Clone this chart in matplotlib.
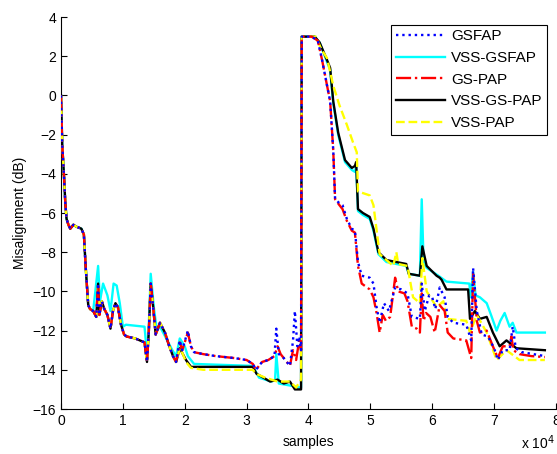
import matplotlib
matplotlib.use("Agg")
import matplotlib.pyplot as plt
from matplotlib.ticker import FuncFormatter

plt.rcParams['font.family'] = ['Liberation Sans', 'DejaVu Sans']

# muestras en unidades de 10^4, desalineamiento en dB
x_inicio = [0, 0.02, 0.05, 0.07, 0.09, 0.12, 0.15, 0.2, 0.25, 0.33, 0.37, 0.4, 0.44, 0.47, 0.52,
            0.57, 0.6, 0.62, 0.66, 0.7, 0.75, 0.8, 0.84, 0.88, 0.92, 0.97, 1.02, 1.06, 1.2, 1.35,
            1.39, 1.42, 1.45, 1.49, 1.53, 1.6, 1.68, 1.75, 1.81, 1.86]
y_inicio = [0, -2.5, -4.2, -5.5, -6.3, -6.6, -6.8, -6.6, -6.7, -6.8, -7.1, -8.8, -10.7, -10.9, -11.0,
            -11.3, -9.6, -11.2, -10.5, -10.9, -11.2, -11.9, -11.0, -10.6, -10.8, -11.7, -12.2, -12.3,
            -12.4, -12.6, -13.6, -12.0, -9.6, -10.8, -12.2, -11.6, -12.1, -12.8, -13.3, -13.6]

# GSFAP
x_gsfap = x_inicio + [1.92, 1.96, 2.05, 2.1, 2.15, 2.3, 2.5, 2.8, 3.0, 3.1, 3.15, 3.25, 3.35, 3.45,
                      3.48, 3.52, 3.6, 3.7, 3.75, 3.78, 3.82, 3.85, 3.88, 3.89, 4.05, 4.15, 4.22,
                      4.3, 4.35, 4.4, 4.43, 4.5, 4.55, 4.62, 4.7, 4.75, 4.8, 4.86, 4.99, 5.05, 5.1,
                      5.15, 5.22, 5.3, 5.4, 5.5, 5.6, 5.67, 5.8, 5.83, 5.88, 5.95, 6.0, 6.05, 6.12,
                      6.2, 6.25, 6.34, 6.55, 6.63, 6.66, 6.72, 6.8, 6.9, 7.0, 7.06, 7.14, 7.25, 7.3,
                      7.35, 7.45, 7.82]
y_gsfap = y_inicio + [-12.5, -13.0, -12.0, -12.8, -13.1, -13.2, -13.3, -13.4, -13.5, -13.7, -14.0,
                      -13.6, -13.5, -13.3, -11.9, -13.2, -13.4, -13.8, -12.5, -11.0, -12.8, -12.3,
                      -13.0, 3.0, 3.0, 2.8, 1.8, 0.5, -0.3, -2.8, -5.3, -5.5, -5.6, -6.3, -6.8,
                      -6.9, -8.5, -9.2, -9.3, -9.6, -10.8, -11.6, -10.6, -11.0, -9.8, -9.9, -10.1,
                      -11.3, -11.4, -9.6, -11.0, -10.2, -10.3, -10.9, -9.8, -10.3, -11.3, -11.6,
                      -11.7, -12.5, -8.8, -11.0, -12.2, -12.3, -12.9, -13.5, -13.0, -13.0, -11.8,
                      -12.9, -13.1, -13.3]

# VSS-GSFAP
x_vss_gsfap = x_inicio[:15] + [0.6, 0.63, 0.68, 0.75, 0.8, 0.85, 0.9, 0.95, 1.0, 1.05, 1.35, 1.39,
                               1.41, 1.45, 1.5, 1.55, 1.6, 1.7, 1.8, 1.86, 1.92, 2.0, 2.05, 2.15,
                               3.1, 3.2, 3.4, 3.46, 3.48, 3.52, 3.7, 3.85, 3.88, 3.89, 4.1, 4.18,
                               4.3, 4.35, 4.4, 4.48, 4.59, 4.7, 4.75, 4.77, 4.8, 4.88, 4.99, 5.05,
                               5.13, 5.26, 5.58, 5.62, 5.8, 5.83, 5.86, 5.91, 6.1, 6.23, 6.6, 6.62,
                               6.66, 6.7, 6.77, 6.88, 6.95, 7.04, 7.1, 7.17, 7.25, 7.3, 7.36, 7.82]
y_vss_gsfap = y_inicio[:15] + [-8.7, -10.5, -9.6, -10.2, -11.0, -9.6, -9.7, -10.6, -11.8, -11.7,
                               -11.8, -13.2, -12.5, -9.1, -10.8, -12.0, -11.8, -12.4, -13.0, -13.3,
                               -12.4, -12.8, -13.3, -13.7, -13.8, -14.4, -14.6, -14.5, -13.2,
                               -14.7, -14.8, -14.9, -14.9, 3.0, 3.0, 2.7, 1.7, 1.3, -0.4, -2.0,
                               -3.4, -3.8, -3.9, -3.6, -5.9, -6.1, -6.3, -6.9, -8.1, -8.5, -8.7,
                               -9.1, -9.2, -5.3, -8.5, -8.8, -9.2, -9.5, -9.6, -10.3, -9.0, -10.2,
                               -10.3, -10.6, -11.2, -12.0, -11.5, -11.1, -11.8, -11.6, -12.1, -12.1]

# GS-PAP
x_gs_pap = x_inicio + [1.92, 1.96, 2.05, 2.1, 2.15, 2.3, 2.5, 2.8, 3.0, 3.1, 3.15, 3.25, 3.35, 3.45,
                       3.5, 3.55, 3.6, 3.7, 3.75, 3.8, 3.85, 3.88, 3.89, 4.05, 4.15, 4.22, 4.3,
                       4.35, 4.4, 4.43, 4.5, 4.55, 4.62, 4.7, 4.75, 4.8, 4.86, 4.99, 5.05, 5.1, 5.15,
                       5.2, 5.25, 5.32, 5.4, 5.45, 5.55, 5.6, 5.67, 5.75, 5.8, 5.83, 5.86, 5.9,
                       5.97, 6.04, 6.12, 6.2, 6.25, 6.34, 6.55, 6.63, 6.66, 6.72, 6.77, 6.88, 6.98,
                       7.06, 7.14, 7.25, 7.28, 7.31, 7.41, 7.6, 7.82]
y_gs_pap = y_inicio + [-12.6, -13.0, -12.1, -12.8, -13.1, -13.2, -13.3, -13.4, -13.5, -13.7, -14.0,
                       -13.6, -13.5, -13.3, -12.8, -13.2, -13.4, -13.8, -13.0, -13.5, -12.5, -13.0,
                       3.0, 3.0, 2.8, 1.8, 0.5, -0.3, -2.8, -5.3, -5.6, -5.8, -6.4, -6.9, -7.0,
                       -8.7, -9.6, -9.9, -10.3, -11.1, -12.1, -11.2, -11.5, -11.3, -9.3, -10.0,
                       -10.1, -10.5, -11.8, -11.9, -12.1, -10.1, -11.5, -11.1, -11.3, -12.1, -10.7,
                       -11.0, -12.1, -12.4, -12.5, -13.4, -9.1, -11.5, -12.1, -12.0, -12.8, -13.4,
                       -12.8, -12.8, -12.3, -13.0, -13.2, -13.3, -13.35]

# VSS-GS-PAP
x_vss_gs_pap = x_inicio + [1.92, 1.97, 2.02, 2.1, 3.1, 3.16, 3.38, 3.5, 3.6, 3.7, 3.78, 3.88, 3.89,
                           4.1, 4.18, 4.3, 4.35, 4.4, 4.48, 4.59, 4.7, 4.75, 4.77, 4.8, 4.88, 4.99,
                           5.05, 5.13, 5.26, 5.58, 5.62, 5.8, 5.84, 5.91, 6.07, 6.12, 6.15, 6.23,
                           6.58, 6.61, 6.69, 6.77, 6.88, 6.98, 7.09, 7.2, 7.36, 7.82]
y_vss_gs_pap = y_inicio + [-12.9, -13.2, -13.5, -13.85, -13.85, -14.2, -14.6, -14.5, -14.7, -14.6,
                           -15.0, -15.0, 3.0, 3.0, 2.7, 1.8, 1.4, -0.3, -1.9, -3.3, -3.7, -3.6,
                           -3.4, -5.8, -6.0, -6.2, -6.8, -8.0, -8.4, -8.6, -9.1, -9.2, -7.7, -8.7,
                           -9.2, -9.3, -9.4, -9.9, -9.9, -11.4, -11.0, -11.4, -11.3, -12.1, -12.8,
                           -12.5, -12.9, -13.0]

# VSS-PAP
x_vss_pap = x_inicio + [1.92, 1.97, 2.02, 2.1, 2.3, 3.1, 3.15, 3.3, 3.5, 3.7, 3.8, 3.88, 3.89, 4.12,
                        4.2, 4.3, 4.4, 4.5, 4.62, 4.72, 4.78, 4.8, 4.99, 5.05, 5.15, 5.37, 5.42,
                        5.45, 5.6, 5.65, 5.69, 5.8, 5.84, 5.91, 6.07, 6.18, 6.23, 6.55, 6.61, 6.72,
                        6.88, 7.04, 7.2, 7.41, 7.82]
y_vss_pap = y_inicio + [-12.9, -13.2, -13.6, -13.9, -14.0, -14.0, -14.2, -14.4, -14.6, -14.6, -14.9,
                        -14.5, 3.0, 3.0, 2.4, 1.9, 0.5, -0.5, -1.5, -2.4, -2.9, -4.9, -5.1, -5.6,
                        -8.1, -8.7, -8.0, -8.6, -8.7, -9.6, -10.3, -10.6, -8.3, -10.0, -10.8,
                        -10.5, -11.4, -11.5, -12.1, -11.2, -12.1, -13.5, -13.0, -13.5, -13.5]

fig = plt.figure(figsize=(5.57, 4.54), dpi=100)
ax = fig.add_axes([0.1095, 0.0991, 0.8887, 0.8634])

def esc(v):
    return [a * 1e4 for a in v]

ax.plot(esc(x_gsfap), y_gsfap, color=(0, 0, 1), ls=':', lw=1.7, label="GSFAP", zorder=6)
ax.plot(esc(x_vss_gsfap), y_vss_gsfap, color=(0, 1, 1), ls='-', lw=1.7, label="VSS-GSFAP", zorder=2)
ax.plot(esc(x_gs_pap), y_gs_pap, color=(1, 0, 0), ls='-.', lw=1.7, label="GS-PAP", zorder=5)
ax.plot(esc(x_vss_gs_pap), y_vss_gs_pap, color="black", ls='-', lw=1.7, label="VSS-GS-PAP", zorder=3)
ax.plot(esc(x_vss_pap), y_vss_pap, color=(1, 1, 0), ls='--', lw=1.7, label="VSS-PAP", zorder=4)

ax.set_xlim(0, 8e4)
ax.set_ylim(-16, 4)
ax.set_xticks([i * 1e4 for i in range(9)])
ax.set_yticks(range(-16, 5, 2))
ax.xaxis.set_major_formatter(FuncFormatter(lambda v, p: f"{v / 1e4:g}"))
ax.tick_params(direction='in', length=4, labelsize=10, top=False, right=False)
ax.spines['top'].set_visible(False)
ax.spines['right'].set_visible(False)

ax.set_xlabel("samples", fontsize=10, labelpad=5)
ax.set_ylabel("Misalignment (dB)", fontsize=10, labelpad=4)
fig.text(0.935, 0.01, "x 10$^4$", fontsize=10)

leg = ax.legend(loc='upper right', bbox_to_anchor=(0.982, 0.98), borderaxespad=0,
                fancybox=False, edgecolor='black', framealpha=1, fontsize=11,
                handlelength=3.2, handletextpad=0.4, borderpad=0.3, labelspacing=0.5)
leg.get_frame().set_linewidth(0.8)

fig.savefig("out.png", dpi=100)
